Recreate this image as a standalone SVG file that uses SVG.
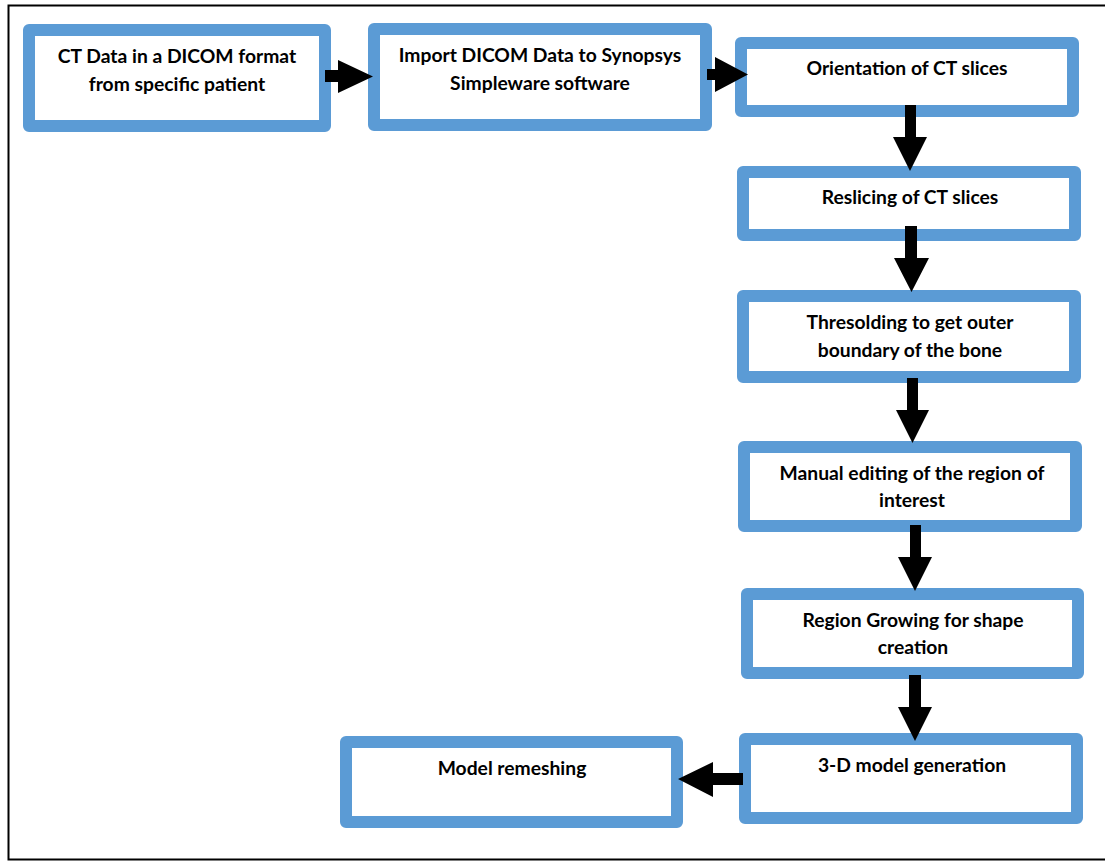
<svg xmlns="http://www.w3.org/2000/svg" width="1105" height="861" viewBox="0 0 1105 861">
<style>
.box{fill:#fff;stroke:#5B9BD5;stroke-width:12;stroke-linejoin:round}
.t{font-family:Lato,"Open Sans",sans-serif;font-weight:bold;font-size:19.3px;fill:#000;text-anchor:middle}
.arr{fill:#000}
</style>
<rect x="0" y="0" width="1105" height="861" fill="#fff"/>
<rect x="8.5" y="5.5" width="1120" height="854" fill="none" stroke="#000" stroke-width="2"/>
<g id="n1"><rect class="box" x="29" y="30" width="296" height="96"/><text class="t" x="177" y="63">CT Data in a DICOM format</text><text class="t" x="177" y="91">from specific patient</text></g>
<g id="n2"><rect class="box" x="374" y="29" width="332" height="96"/><text class="t" x="540" y="62">Import DICOM Data to Synopsys</text><text class="t" x="540" y="90">Simpleware software</text></g>
<g id="n3"><rect class="box" x="741" y="43" width="332" height="68"/><text class="t" x="907" y="75">Orientation of CT slices</text></g>
<g id="n4"><rect class="box" x="743" y="172" width="332" height="63"/><text class="t" x="910" y="204">Reslicing of CT slices</text></g>
<g id="n5"><rect class="box" x="743" y="296" width="332" height="81"/><text class="t" x="910" y="329">Thresolding to get outer</text><text class="t" x="910" y="357">boundary of the bone</text></g>
<g id="n6"><rect class="box" x="744" y="447" width="332" height="79"/><text class="t" x="912" y="480">Manual editing of the region of</text><text class="t" x="912" y="507">interest</text></g>
<g id="n7"><rect class="box" x="747" y="594" width="331" height="79"/><text class="t" x="913" y="627">Region Growing for shape</text><text class="t" x="913" y="654">creation</text></g>
<g id="n8"><rect class="box" x="745" y="739" width="332" height="79"/><text class="t" x="912" y="772">3-D model generation</text></g>
<g id="n9"><rect class="box" x="346" y="742" width="331" height="80"/><text class="t" x="512" y="775">Model remeshing</text></g>
<g id="connectors">
<polygon class="arr" points="325,70 338,70 338,60 373,76.5 338,93 338,82 325,82"/>
<polygon class="arr" points="707,69 715,69 715,57 748,74.5 715,92 715,80 707,80"/>
<polygon class="arr" points="905,105 916,105 916,137 927,137 910,171 893,137 905,137"/>
<polygon class="arr" points="905,226 917,226 917,258 929,258 911.5,292 894,258 905,258"/>
<polygon class="arr" points="907,378 918,378 918,410 929,410 912.5,443 896,410 907,410"/>
<polygon class="arr" points="910,525 921,525 921,557 932,557 915,591 898,557 910,557"/>
<polygon class="arr" points="909,675 921,675 921,707 932,707 915,741 898,707 909,707"/>
<polygon class="arr" points="743,773 713,773 713,762 678,779 713,797 713,785 743,785"/>
</g>
</svg>
